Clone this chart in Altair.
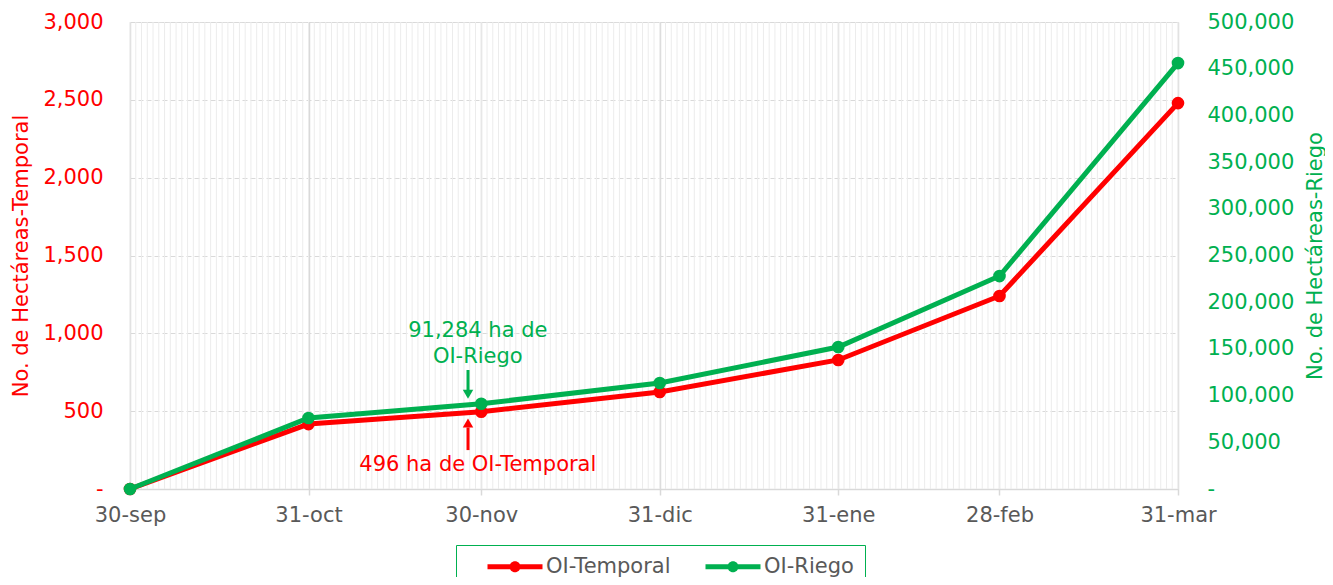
import altair as alt
import pandas as pd

# ---- data ----
dates = ["2022-09-30", "2022-10-31", "2022-11-30", "2022-12-31",
         "2023-01-31", "2023-02-28", "2023-03-31"]
x_labels = ["30-sep", "31-oct", "30-nov", "31-dic", "31-ene", "28-feb", "31-mar"]
temporal_ha = [0, 417, 496, 623, 829, 1240, 2479]
riego_ha = [0, 76000, 91284, 113500, 152000, 228000, 456000]
series_names = ["OI-Temporal", "OI-Riego"]

# annotation texts and their data positions
riego_note = ["91,284 ha de", "OI-Riego"]
riego_note_y = [169000, 141300]
temporal_note = ["496 ha de OI-Temporal"]
temporal_note_y = [154]

RED = "#FF0000"
GREEN = "#00B050"
GRAY = "#595959"
FONT = "DejaVu Sans"
FS = 21

start = pd.Timestamp(dates[0])
days = [(pd.Timestamp(d) - start).days for d in dates]
note_day = days[2] - 0.6
arrow_day = days[2] - 2.3

df_t = pd.DataFrame({"day": days, "value": temporal_ha, "series": series_names[0]})
df_r = pd.DataFrame({"day": days, "value": riego_ha, "series": series_names[1]})
df_grid = pd.DataFrame({"day": list(range(0, days[-1] + 1))})

label_expr = " : ".join(f"datum.value == {d} ? '{l}'" for d, l in zip(days, x_labels)) + " : ''"

x_scale = alt.Scale(domain=[0, days[-1]], nice=False, zero=False)
x_axis = alt.Axis(values=days, labelExpr=label_expr, title=None, grid=True,
                  gridColor="#d9d9d9", gridWidth=1.5, domainColor="#d9d9d9",
                  domainWidth=1.5, tickColor="#d9d9d9", tickSize=6, tickWidth=1.5,
                  labelColor=GRAY, labelFontSize=FS, labelFont=FONT, labelPadding=9,
                  labelFlush=False, labelOverlap=False, labelBound=False)
X = alt.X("day:Q", scale=x_scale, axis=x_axis)

color_scale = alt.Scale(domain=series_names, range=[RED, GREEN])
# legend symbol: a thick line segment with a dot in the middle, drawn right of the entry origin
legend_path = ("M1,-0.25L6.5,-0.25L6.5,0.25L1,0.25Z "
               "M4.3,0A0.55,0.55 0 1,1 3.2,0A0.55,0.55 0 1,1 4.3,0Z")
legend = alt.Legend(orient="none", legendX=326, legendY=523, direction="horizontal",
                    title=None, symbolType=legend_path, symbolSize=400,
                    symbolStrokeWidth=0, strokeColor=GREEN, padding=11,
                    labelFontSize=FS, labelFont=FONT, labelColor=GRAY,
                    labelOffset=58, columnPadding=14, labelLimit=300)
C = alt.Color("series:N", scale=color_scale, legend=legend)

# minor daily gridlines
grid = alt.Chart(df_grid).mark_rule(color="#ececec", strokeWidth=1).encode(x=X)

# ---- left (Temporal) ----
yl_scale = alt.Scale(domain=[0, 3000], nice=False)
yl_axis = alt.Axis(values=list(range(0, 3001, 500)),
                   labelExpr="datum.value == 0 ? '-\u00a0\u00a0\u00a0' : format(datum.value, ',')",
                   title="No. de Hectáreas-Temporal", titleColor=RED, titleFontSize=FS,
                   titleFont=FONT, titleFontWeight="normal", titleAngle=270,
                   titleX=-109, titleY=233.5, titleAlign="center", titleBaseline="middle",
                   labelColor=RED, labelFontSize=FS, labelFont=FONT, labelPadding=27,
                   ticks=False, domain=False, grid=True, gridColor="#d9d9d9",
                   gridDash=[5, 3], gridWidth=1.2)
YL = alt.Y("value:Q", scale=yl_scale, axis=yl_axis)

line_t = alt.Chart(df_t).mark_line(color=RED, strokeWidth=5).encode(x=X, y=YL)
pts_t = alt.Chart(df_t).mark_point(filled=True, size=160, opacity=1, shape="circle").encode(x=X, y=YL, color=C)

df_tnote = pd.DataFrame({"day": [note_day], "value": temporal_note_y, "t": temporal_note})
txt_t = alt.Chart(df_tnote).mark_text(color=RED, fontSize=FS, font=FONT).encode(
    x=X, y=YL, text="t:N")
df_tarrow = pd.DataFrame({"day": [arrow_day], "value": [250], "value2": [395]})
shaft_t = alt.Chart(df_tarrow).mark_rule(color=RED, strokeWidth=3).encode(
    x=X, y=YL, y2="value2:Q")
df_thead = pd.DataFrame({"day": [arrow_day], "value": [424]})
head_t = alt.Chart(df_thead).mark_point(shape="triangle-up", filled=True, color=RED,
                                        size=110, opacity=1).encode(x=X, y=YL)

left = alt.layer(line_t, pts_t, txt_t, shaft_t, head_t)

# ---- right (Riego) ----
yr_scale = alt.Scale(domain=[0, 500000], nice=False)
yr_axis = alt.Axis(values=list(range(0, 500001, 50000)), orient="right",
                   labelExpr="datum.value == 0 ? '-' : format(datum.value, ',')",
                   title="No. de Hectáreas-Riego", titleColor=GREEN, titleFontSize=FS,
                   titleFont=FONT, titleFontWeight="normal", titleAngle=270,
                   titleX=137, titleY=233.5, titleAlign="center", titleBaseline="middle",
                   labelColor=GREEN, labelFontSize=FS, labelFont=FONT, labelPadding=29,
                   ticks=False, domain=False, grid=False)
YR = alt.Y("value:Q", scale=yr_scale, axis=yr_axis)

line_r = alt.Chart(df_r).mark_line(color=GREEN, strokeWidth=5).encode(x=X, y=YR)
pts_r = alt.Chart(df_r).mark_point(filled=True, size=160, opacity=1, shape="circle").encode(x=X, y=YR, color=C)

df_rnote = pd.DataFrame({"day": [note_day] * 2, "value": riego_note_y, "t": riego_note})
txt_r = alt.Chart(df_rnote).mark_text(color=GREEN, fontSize=FS, font=FONT).encode(
    x=X, y=YR, text="t:N")
df_rarrow = pd.DataFrame({"day": [arrow_day], "value": [127400], "value2": [104000]})
shaft_r = alt.Chart(df_rarrow).mark_rule(color=GREEN, strokeWidth=3).encode(
    x=X, y=YR, y2="value2:Q")
df_rhead = pd.DataFrame({"day": [arrow_day], "value": [101500]})
head_r = alt.Chart(df_rhead).mark_point(shape="triangle-down", filled=True, color=GREEN,
                                        size=110, opacity=1).encode(x=X, y=YR)

right = alt.layer(line_r, pts_r, txt_r, shaft_r, head_r)

chart = alt.layer(grid, left, right).resolve_scale(y="independent").properties(
    width=1048, height=467,
    autosize=alt.AutoSizeParams(type="none"),
    padding={"left": 122, "top": 14, "right": 147, "bottom": 88},
).configure_view(stroke=None).configure(font=FONT)

chart.save("out.html", embed_options={"renderer": "svg", "actions": False})
